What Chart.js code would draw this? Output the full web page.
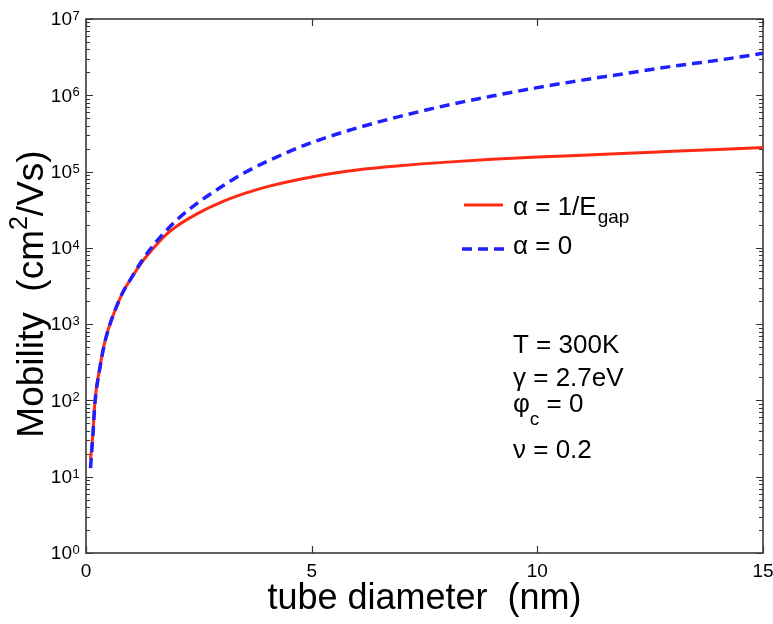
<!DOCTYPE html>
<html>
<head>
<meta charset="utf-8">
<script src="https://cdn.jsdelivr.net/npm/chart.js@4.4.0/dist/chart.umd.min.js"></script>
<style>
  html, body { margin: 0; padding: 0; background: #fff; }
  #wrap { width: 773px; height: 624px; }
</style>
</head>
<body>
<div id="wrap"><canvas id="grafico"></canvas></div>
<script>
// valores (diâmetro em nm, mobilidade em cm2/Vs)
const diameter = [0.1, 0.15, 0.2, 0.3, 0.4, 0.5, 0.6, 0.8, 1.0, 1.25, 1.5, 1.75, 2, 2.5, 3, 3.5, 4,
                  5, 6, 7, 8, 9, 10, 11, 12, 13, 14, 15];
const mobilityEgap = [17, 35, 100, 255, 530, 880, 1300, 2500, 3980, 6610, 1.0e4, 1.45e4, 1.91e4, 2.88e4, 3.98e4, 5.13e4, 6.31e4,
                      8.51e4, 1.05e5, 1.20e5, 1.33e5, 1.45e5, 1.55e5, 1.64e5, 1.74e5, 1.84e5, 1.95e5, 2.07e5];
const mobilityZero = [13, 33, 95, 250, 520, 870, 1300, 2500, 3980, 6920, 1.10e4, 1.62e4, 2.29e4, 3.98e4, 6.31e4, 9.55e4, 1.35e5,
                      2.40e5, 3.72e5, 5.37e5, 7.41e5, 9.77e5, 1.26e6, 1.58e6, 1.95e6, 2.40e6, 2.88e6, 3.55e6];

const xTickValues = [0, 5, 10, 15];
const yTickExponents = [0, 1, 2, 3, 4, 5, 6, 7];

const FONT = "'Liberation Sans', Arial, Helvetica, sans-serif";
const font = size => size + 'px ' + FONT;

function toPoints(xs, ys) {
    return xs.map((v, i) => ({ x: v, y: ys[i] }));
}

// moldura, marcas dos eixos (para dentro) e textos com sub/sobrescrito
const decorations = {
    id: 'decorations',
    beforeDatasetsDraw(chart) {
        const { ctx, chartArea: a, scales: { x, y } } = chart;
        ctx.save();
        ctx.strokeStyle = '#333';
        ctx.lineWidth = 1.2;
        ctx.beginPath();
        yTickExponents.forEach(e => {
            const py = Math.round(y.getPixelForValue(10 ** e)) + 0.5;
            ctx.moveTo(a.left, py); ctx.lineTo(a.left + 7, py);
            ctx.moveTo(a.right, py); ctx.lineTo(a.right - 7, py);
            if (e < 7) {
                for (let m = 2; m < 10; m++) {
                    const pm = Math.round(y.getPixelForValue(m * 10 ** e)) + 0.5;
                    ctx.moveTo(a.left, pm); ctx.lineTo(a.left + 4, pm);
                    ctx.moveTo(a.right, pm); ctx.lineTo(a.right - 4, pm);
                }
            }
        });
        xTickValues.forEach(v => {
            const px = Math.round(x.getPixelForValue(v)) + 0.5;
            ctx.moveTo(px, a.bottom); ctx.lineTo(px, a.bottom - 7);
            ctx.moveTo(px, a.top); ctx.lineTo(px, a.top + 7);
        });
        ctx.stroke();
        ctx.lineWidth = 1.6;
        ctx.strokeStyle = '#3a3a3a';
        ctx.strokeRect(a.left, a.top, a.right - a.left, a.bottom - a.top);
        ctx.restore();
    },
    afterDraw(chart) {
        const { ctx, scales: { y } } = chart;
        ctx.save();
        ctx.fillStyle = '#000';

        // rótulos 10^n do eixo y
        yTickExponents.forEach(e => {
            const py = y.getPixelForValue(10 ** e);
            ctx.font = font(19);
            ctx.textAlign = 'right';
            ctx.textBaseline = 'middle';
            ctx.fillText('10', 72, py + 1);
            ctx.font = font(13);
            ctx.textAlign = 'left';
            ctx.textBaseline = 'alphabetic';
            ctx.fillText(String(e), 72.5, py + 1);
        });

        // título do eixo y
        ctx.save();
        ctx.translate(43, 294);
        ctx.rotate(-Math.PI / 2);
        const p1 = 'Mobility  (cm', p2 = '2', p3 = '/Vs)';
        ctx.font = font(37);
        const w1 = ctx.measureText(p1).width, w3 = ctx.measureText(p3).width;
        ctx.font = font(25);
        const w2 = ctx.measureText(p2).width;
        let sx = -(w1 + w2 + w3) / 2;
        ctx.textAlign = 'left';
        ctx.textBaseline = 'alphabetic';
        ctx.font = font(37);
        ctx.fillText(p1, sx, 0); sx += w1;
        ctx.font = font(25);
        ctx.fillText(p2, sx, -16); sx += w2;
        ctx.font = font(37);
        ctx.fillText(p3, sx, 0);
        ctx.restore();

        // legenda
        ctx.lineWidth = 3;
        ctx.strokeStyle = '#ff2a14';
        ctx.beginPath(); ctx.moveTo(464, 205); ctx.lineTo(503, 205); ctx.stroke();
        ctx.strokeStyle = '#1f1fff';
        ctx.lineWidth = 3.5;
        ctx.setLineDash([10, 6]);
        ctx.beginPath(); ctx.moveTo(462, 249); ctx.lineTo(505, 249); ctx.stroke();
        ctx.setLineDash([]);

        ctx.textAlign = 'left';
        ctx.textBaseline = 'alphabetic';
        ctx.font = font(26);
        const leg1 = 'α = 1/E';
        ctx.fillText(leg1, 513, 215);
        const lw = ctx.measureText(leg1).width;
        ctx.font = font(19);
        ctx.fillText('gap', 513 + lw + 1, 223);
        ctx.font = font(26);
        ctx.fillText('α = 0', 513, 254);

        // parâmetros
        ctx.fillText('T = 300K', 513, 353);
        ctx.fillText('γ = 2.7eV', 513, 386);
        ctx.fillText('φ', 513, 412);
        const pw = ctx.measureText('φ').width;
        ctx.font = font(19);
        ctx.fillText('c', 513 + pw, 425);
        const cw = ctx.measureText('c').width;
        ctx.font = font(26);
        ctx.fillText(' = 0', 513 + pw + cw, 412);
        ctx.fillText('ν = 0.2', 513, 458);
        ctx.restore();
    }
};

const ctx = document.getElementById('grafico').getContext('2d');

new Chart(ctx, {
    type: 'line',
    data: {
        datasets: [{
            label: 'α = 1/Egap',
            data: toPoints(diameter, mobilityEgap),
            borderColor: '#ff2a14',
            borderWidth: 3,
            pointRadius: 0,
            cubicInterpolationMode: 'monotone',
            order: 2
        }, {
            label: 'α = 0',
            data: toPoints(diameter, mobilityZero),
            borderColor: '#1f1fff',
            borderWidth: 3.5,
            borderDash: [10, 6],
            pointRadius: 0,
            cubicInterpolationMode: 'monotone',
            order: 1
        }]
    },
    options: {
        responsive: true,
        maintainAspectRatio: false,
        animation: false,
        layout: { padding: { top: 19, right: 10, left: 0, bottom: 0 } },
        plugins: {
            legend: { display: false },
            tooltip: { enabled: false }
        },
        scales: {
            x: {
                type: 'linear',
                min: 0,
                max: 15,
                afterBuildTicks: s => { s.ticks = xTickValues.map(v => ({ value: v })); },
                ticks: { color: '#000', font: { family: FONT, size: 19 }, padding: 7, maxRotation: 0 },
                grid: { display: false, drawTicks: false },
                border: { display: false },
                title: {
                    display: true,
                    text: 'tube diameter  (nm)',
                    color: '#000',
                    font: { family: FONT, size: 36 },
                    padding: { top: 0, bottom: 3 }
                },
                afterFit: s => { s.height = 71; s.paddingLeft = 0; s.paddingRight = 0; }
            },
            y: {
                type: 'logarithmic',
                min: 1,
                max: 1e7,
                ticks: { display: false },
                grid: { display: false, drawTicks: false },
                border: { display: false },
                afterFit: s => { s.width = 86; }
            }
        }
    },
    plugins: [decorations]
});
</script>
</body>
</html>
